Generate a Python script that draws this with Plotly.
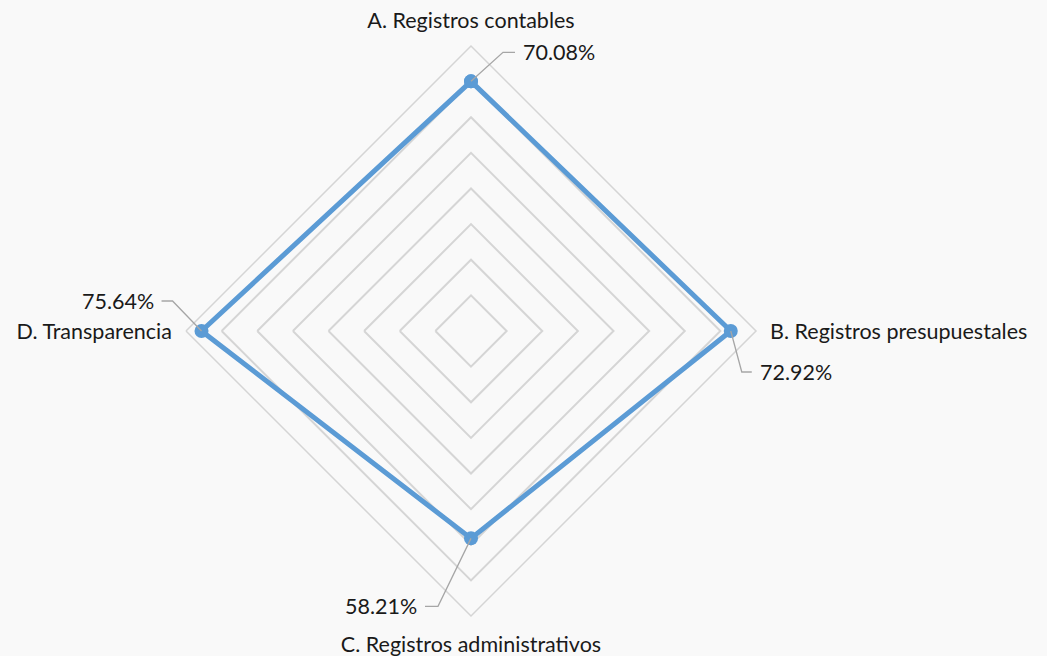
import math
import plotly.graph_objects as go

categories = ["A. Registros contables", "B. Registros presupuestales",
              "C. Registros administrativos", "D. Transparencia"]
values = [70.08, 72.92, 58.21, 75.64]
value_labels = ["70.08%", "72.92%", "58.21%", "75.64%"]
r_max = 80

W, H = 1047, 656
CX, CY, R = 471, 331, 285  # pixel centre and radius of the polar area

dom_x = [(CX - R) / W, (CX + R) / W]
dom_y = [(H - CY - R) / H, (H - CY + R) / H]

FONT = "Lato"
FSIZE = 21.5
LINE = "#5b9bd5"
GRID = "#d5d5d5"
LEADER = "#a6a6a6"
TEXT = "#1a1a1a"

fig = go.Figure()
fig.add_trace(go.Scatterpolar(
    r=values + [values[0]],
    theta=categories + [categories[0]],
    mode="lines+markers",
    line=dict(color=LINE, width=5),
    marker=dict(color=LINE, size=14),
    hoverinfo="skip",
    showlegend=False,
))

def to_px(r, idx):
    ang = math.radians(90 - 90 * idx)
    d = R * r / r_max
    return CX + d * math.cos(ang), CY - d * math.sin(ang)

def px_to_paper(x, y):
    return x / W, 1 - y / H

# leader line offsets (elbow dx, dy, horizontal length) and text side
leader_style = [
    (32, -29, 12, "left"),
    (11, 41, 10, "left"),
    (-33, 68, -13, "right"),
    (-29, -30, -11, "right"),
]

shapes = []
annotations = []
for i, v in enumerate(values):
    px, py = to_px(v, i)
    ex, ey, hl, side = leader_style[i]
    x1, y1 = px + ex, py + ey
    x2 = x1 + hl
    p0 = px_to_paper(px, py)
    p1 = px_to_paper(x1, y1)
    p2 = px_to_paper(x2, y1)
    shapes.append(dict(
        type="path", xref="paper", yref="paper",
        path=f"M {p0[0]},{p0[1]} L {p1[0]},{p1[1]} L {p2[0]},{p2[1]}",
        line=dict(color=LEADER, width=1.3),
    ))
    tx = x2 + (6 if side == "left" else -6)
    annotations.append(dict(
        x=tx / W, y=1 - y1 / H, xref="paper", yref="paper",
        text=value_labels[i], showarrow=False,
        xanchor=side, yanchor="middle",
        font=dict(family=FONT, size=FSIZE, color=TEXT),
    ))

fig.update_layout(
    width=W, height=H,
    margin=dict(l=0, r=0, t=0, b=0),
    paper_bgcolor="#f9f9f9",
    plot_bgcolor="#f9f9f9",
    showlegend=False,
    polar=dict(
        domain=dict(x=dom_x, y=dom_y),
        bgcolor="#f9f9f9",
        gridshape="linear",
        radialaxis=dict(
            range=[0, r_max], dtick=10, showticklabels=False, ticks="",
            showline=False, gridcolor=GRID, gridwidth=1.5,
        ),
        angularaxis=dict(
            rotation=90, direction="clockwise",
            showgrid=False, showline=True, linecolor=GRID, linewidth=1.5,
            ticks="outside", ticklen=9, tickcolor="rgba(0,0,0,0)",
            tickfont=dict(family=FONT, size=FSIZE, color=TEXT),
        ),
    ),
    shapes=shapes,
    annotations=annotations,
)

fig.write_html("out.html",
               config={"displayModeBar": False},
               post_script="document.body.style.margin='0';document.body.style.background='#f9f9f9';")
